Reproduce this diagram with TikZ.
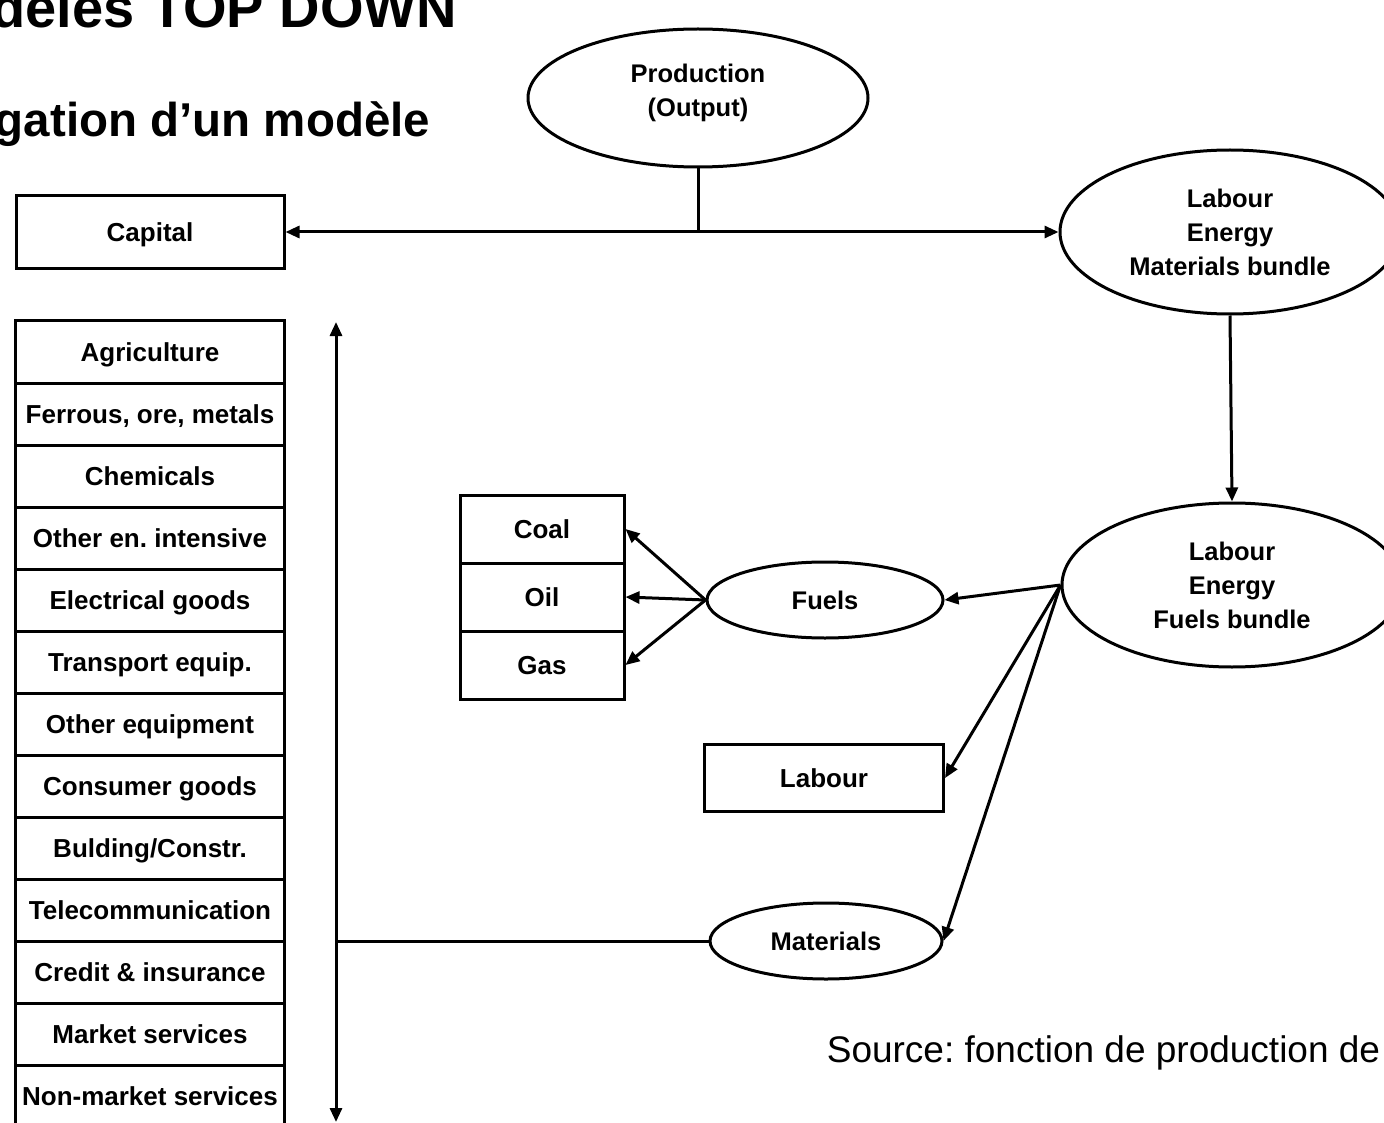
\documentclass[tikz,border=0pt]{standalone}
\usepackage{fontspec}
\setmainfont{Liberation Sans}
\frenchspacing
\usetikzlibrary{shapes.geometric,arrows.meta}

\begin{document}
\begin{tikzpicture}[x=1pt, y=-1pt, line width=3pt,
	box/.style = {draw, rectangle, inner sep=0pt, font=\fontsize{26}{34}\selectfont\bfseries, text height=18.7pt, text depth=0pt, align=center},
	ell/.style = {draw, ellipse, inner sep=0pt, font=\fontsize{25.5}{34}\selectfont\bfseries, align=center},
	arr/.style = {-{Triangle[length=14pt,width=12pt]}},
	dblarr/.style = {{Triangle[length=14pt,width=12pt]}-{Triangle[length=14pt,width=12pt]}}]
	\useasboundingbox (0,0) rectangle (1384,1123);
	\clip (0,0) rectangle (1384,1123);
	% titles
	\node [anchor=base east, font=\fontsize{56}{60}\selectfont\bfseries] (title1) at (462,28) {dèles TOP DOWN};
	\node [anchor=base east, font=\fontsize{47.5}{52}\selectfont\bfseries] (title2) at (435,137) {gation d’un modèle};
	\node [anchor=base west, font=\fontsize{37}{40}\selectfont] (source) at (822,1062) {Source: fonction de production de};
	% top of the tree
	\node [ell, text depth=15pt, minimum width=340, minimum height=138] (prod) at (698,98) {Production\\(Output)};
	\node [box, minimum width=268, minimum height=73] (cap) at (150,232) {Capital};
	\node [ell, minimum width=340, minimum height=164] (lemb) at (1230,232) {Labour\\Energy\\Materials bundle};
	\node [ell, minimum width=340, minimum height=164] (lefb) at (1232,585) {Labour\\Energy\\Fuels bundle};
	\coordinate (junc) at (698,232);
	\draw (prod.south) -- (junc);
	\draw [dblarr] (cap.east) -- (lemb.west);
	\draw [arr] (lemb.south) -- (lefb.north);
	% fuels
	\node [ell, minimum width=236, minimum height=76] (fuel) at (825,600) {Fuels};
	\foreach \nm/\txt [count=\i] in {coal/Coal, oil/Oil, gas/Gas}
		\node [box, minimum width=164, minimum height=68] (\nm) at (542,461+68*\i) {\txt};
	\draw [arr] (fuel.west) -- (coal.east);
	\draw [arr] (fuel.west) -- (oil.east);
	\draw [arr] (fuel.west) -- (gas.east);
	% labour and materials
	\node [box, minimum width=239, minimum height=67] (lab) at (824,778) {Labour};
	\node [ell, minimum width=232, minimum height=76] (mat) at (826,941) {Materials};
	\draw [arr] (lefb.west) -- (fuel.east);
	\draw [arr] (lefb.west) -- (lab.east);
	\draw [arr] (lefb.west) -- (mat.east);
	% sectors
	\foreach \txt [count=\i] in {Agriculture, {Ferrous, ore, metals}, Chemicals, Other en. intensive,
		Electrical goods, Transport equip., Other equipment, Consumer goods, Bulding/Constr.,
		Telecommunication, Credit \& insurance, Market services, Non-market services}
		\node [box, minimum width=269, minimum height=62] (sec\i) at (150,290+62*\i) {\txt};
	\coordinate (sectop) at (336,322);
	\coordinate (secbot) at (336,1122);
	\coordinate (secmat) at (336,941);
	\draw [dblarr] (sectop) -- (secbot);
	\draw (mat.west) -- (secmat);
\end{tikzpicture}
\end{document}
